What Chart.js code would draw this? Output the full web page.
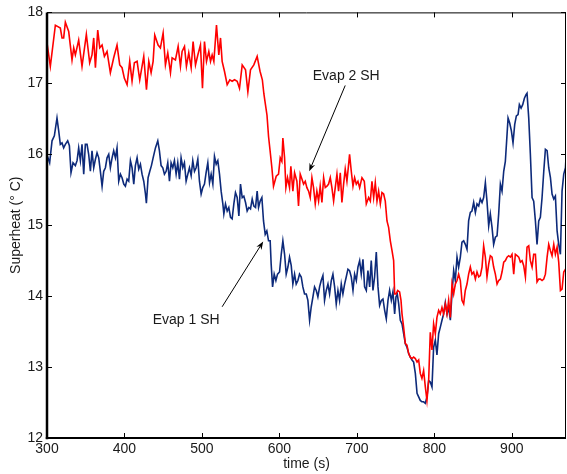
<!DOCTYPE html>
<html>
<head>
<meta charset="utf-8">
<title>Superheat</title>
<script src="https://cdn.jsdelivr.net/npm/chart.js@4/dist/chart.umd.min.js"></script>
<style>
  html, body { margin: 0; padding: 0; background: #ffffff; }
  #wrap { width: 567px; height: 474px; }
</style>
</head>
<body>
<div id="wrap"><canvas id="c" width="567" height="474"></canvas></div>
<script>
// Evaporator 2 superheat (°C) against time (s)
const evap2Time = [
  300.0, 304.3, 310.8, 317.2, 319.4, 321.5, 323.7, 328.0, 332.3, 334.5, 336.6, 340.9, 345.2, 350.8, 355.1,
  358.1, 360.3, 362.5, 365.5, 368.1, 371.1, 374.1, 377.5, 381.8, 386.1, 390.4, 393.9, 396.9, 399.9, 403.4,
  406.8, 409.8, 412.8, 416.3, 419.7, 424.9, 428.4, 431.4, 434.4, 437.0, 439.1, 443.4, 446.4, 449.9, 452.9,
  455.9, 459.4, 461.5, 465.8, 469.3, 472.3, 474.4, 477.5, 480.0, 483.0, 486.1, 488.6, 491.7, 494.7, 498.1,
  500.7, 503.3, 505.9, 508.9, 511.1, 513.2, 515.4, 518.8, 521.8, 524.0, 526.1, 529.1, 532.6, 536.0, 539.0,
  542.1, 545.5, 548.5, 552.0, 556.3, 559.3, 562.7, 567.0, 571.3, 575.0, 578.0, 580.0, 582.0, 584.0, 586.0,
  588.0, 590.3, 592.4, 595.9, 598.9, 601.1, 603.2, 604.5, 606.7, 608.4, 610.5, 613.1, 614.8, 617.4, 619.6,
  622.6, 624.7, 626.9, 629.1, 631.2, 633.4, 635.5, 637.7, 639.8, 642.0, 644.1, 646.3, 648.4, 650.6, 652.7,
  654.9, 657.1, 659.2, 661.4, 663.5, 665.7, 667.8, 670.0, 672.1, 674.3, 676.4, 678.6, 680.7, 682.9, 685.0,
  687.2, 689.4, 690.6, 692.8, 695.0, 697.1, 699.3, 701.4, 703.6, 706.6, 709.6, 712.2, 715.2, 717.4, 719.5,
  721.7, 723.8, 726.0, 728.1, 730.3, 732.4, 734.6, 736.7, 738.9, 741.0, 743.2, 745.4, 747.5, 748.8, 750.5,
  752.7, 755.2, 757.0, 758.3, 760.4, 762.6, 764.7, 766.9, 769.0, 771.2, 773.3, 775.5, 777.7, 779.8, 781.9,
  784.0, 786.2, 788.4, 790.5, 792.7, 794.8, 797.0, 799.1, 801.3, 803.4, 805.6, 807.7, 809.9, 812.0, 814.2,
  816.4, 818.5, 820.7, 822.8, 825.0, 827.1, 829.3, 831.4, 833.6, 835.7, 837.9, 840.0, 842.2, 844.3, 846.5,
  848.6, 850.8, 853.0, 855.1, 857.3, 859.4, 861.6, 863.7, 865.9, 868.0, 870.2, 872.3, 874.5, 876.6, 878.8,
  881.0, 883.1, 885.3, 887.4, 889.6, 891.7, 893.9, 896.0, 898.2, 900.3, 902.5, 904.6, 906.8, 909.0, 911.1,
  913.3, 915.4, 917.6, 919.7, 921.9, 924.0, 926.2, 928.3, 930.5, 932.6, 934.8, 936.9, 939.1, 941.3, 943.4,
  945.6, 947.7, 949.9, 952.0, 954.2, 956.3, 958.5, 960.6, 962.8, 964.9, 967.1, 969.3, 971.8
];
const evap2SH = [
  17.57, 17.24, 17.82, 17.78, 17.64, 17.64, 17.86, 17.73, 17.33, 17.50, 17.40, 17.61, 17.24, 17.69, 17.29,
  17.40, 17.64, 17.22, 17.75, 17.50, 17.54, 17.38, 17.45, 17.15, 17.36, 17.54, 17.26, 17.22, 17.07, 16.98,
  17.31, 17.03, 17.29, 17.31, 17.05, 17.38, 16.91, 17.31, 17.15, 17.31, 17.68, 17.54, 17.50, 17.71, 17.26,
  17.43, 17.15, 17.36, 17.33, 17.52, 17.24, 17.45, 17.52, 17.24, 17.43, 17.22, 17.59, 17.26, 17.40, 17.54,
  16.93, 17.59, 17.31, 17.45, 17.31, 17.40, 17.31, 17.82, 17.40, 17.64, 17.31, 17.17, 16.98, 17.05, 17.03,
  17.05, 17.03, 16.93, 17.26, 17.19, 16.88, 17.19, 17.26, 17.38, 17.17, 17.05, 16.85, 16.70, 16.55, 16.25,
  16.05, 15.81, 15.55, 15.69, 15.72, 15.95, 15.90, 16.23, 15.95, 15.53, 15.67, 15.53, 15.83, 15.48, 15.74,
  15.62, 15.27, 15.72, 15.65, 15.58, 15.62, 15.53, 15.48, 15.39, 15.67, 15.53, 15.30, 15.48, 15.34, 15.55,
  15.32, 15.67, 15.53, 15.55, 15.58, 15.67, 15.53, 15.34, 15.53, 15.72, 15.48, 15.74, 15.32, 15.58, 15.79,
  15.62, 15.86, 16.00, 15.76, 15.55, 15.67, 15.58, 15.62, 15.53, 15.67, 15.62, 15.30, 15.39, 15.34, 15.62,
  15.39, 15.60, 15.34, 15.48, 15.30, 15.46, 15.44, 15.34, 15.06, 14.97, 14.78, 14.64, 14.50, 14.03, 14.03,
  14.08, 14.06, 13.94, 13.75, 13.56, 13.33, 13.31, 13.19, 13.14, 13.12, 13.14, 13.12, 13.07, 13.10, 12.91,
  12.84, 12.95, 12.72, 12.53, 12.81, 13.49, 13.24, 13.61, 13.47, 13.70, 13.80, 13.75, 13.84, 13.75, 13.89,
  13.75, 13.94, 13.70, 14.17, 14.03, 14.17, 14.22, 14.31, 14.22, 13.94, 13.89, 14.08, 14.17, 14.31, 14.41,
  14.31, 14.34, 14.24, 14.34, 14.27, 14.29, 14.41, 14.71, 14.55, 14.27, 14.45, 14.57, 14.55, 14.41, 14.31,
  14.17, 14.22, 14.24, 14.34, 14.48, 14.50, 14.55, 14.57, 14.55, 14.59, 14.31, 14.59, 14.57, 14.55, 14.48,
  14.50, 14.43, 14.27, 14.69, 14.71, 14.50, 14.41, 14.59, 14.59, 14.20, 14.24, 14.24, 14.22, 14.24, 14.31,
  14.55, 14.73, 14.64, 14.57, 14.73, 14.59, 14.69, 14.48, 14.08, 14.10, 14.34, 14.38, 14.41
];

// Evaporator 1 superheat (°C) against time (s)
const evap1Time = [
  300.0, 303.4, 306.5, 309.5, 312.9, 315.1, 317.2, 319.4, 321.5, 323.7, 326.7, 328.9, 331.0, 333.6, 336.6,
  338.8, 340.9, 343.1, 345.2, 347.4, 349.5, 351.7, 353.8, 356.0, 358.1, 360.3, 362.5, 364.6, 366.8, 368.9,
  371.1, 373.2, 375.4, 377.5, 379.7, 381.8, 384.0, 386.1, 388.3, 390.4, 392.6, 394.8, 396.9, 399.1, 401.2,
  403.4, 405.5, 407.7, 409.8, 412.0, 414.1, 416.3, 418.4, 420.6, 422.7, 424.9, 427.1, 428.3, 430.5, 432.7,
  434.8, 437.0, 440.0, 443.0, 445.1, 447.3, 449.5, 451.6, 453.8, 455.9, 458.1, 460.2, 462.4, 464.5, 466.7,
  468.8, 471.0, 473.1, 475.3, 477.4, 479.6, 481.8, 483.9, 486.1, 488.2, 490.4, 492.5, 494.7, 496.8, 499.0,
  501.1, 503.3, 505.4, 507.6, 509.8, 511.9, 514.1, 516.2, 518.4, 520.5, 522.7, 524.8, 527.0, 528.3, 530.4,
  532.6, 534.7, 536.9, 539.0, 541.2, 543.3, 545.5, 547.7, 549.8, 552.0, 554.1, 556.3, 558.4, 560.6, 562.7,
  564.9, 567.0, 569.2, 571.3, 573.1, 575.2, 577.4, 579.5, 581.7, 583.8, 586.0, 588.1, 589.4, 591.2, 593.3,
  595.5, 597.6, 600.2, 602.4, 604.5, 606.7, 608.8, 611.0, 613.1, 615.3, 617.4, 619.6, 621.7, 623.9, 626.0,
  628.2, 630.3, 632.5, 634.7, 636.8, 639.0, 641.1, 643.3, 645.4, 647.6, 649.7, 651.9, 654.0, 656.2, 658.3,
  660.5, 662.7, 664.8, 667.0, 669.1, 671.3, 673.4, 675.6, 677.7, 679.9, 682.0, 684.2, 686.3, 688.5, 690.6,
  692.8, 695.0, 697.1, 699.3, 701.4, 703.6, 705.7, 707.9, 710.0, 712.2, 714.3, 716.5, 718.6, 720.8, 722.9,
  725.1, 727.3, 729.4, 731.6, 733.7, 735.9, 738.0, 740.2, 742.3, 744.5, 746.6, 748.8, 750.5, 752.2, 754.0,
  756.1, 758.3, 760.4, 762.6, 764.7, 766.9, 769.0, 771.2, 773.3, 775.5, 777.7, 779.8, 781.9, 784.0, 786.2,
  788.4, 790.5, 792.7, 794.8, 797.0, 799.1, 801.3, 803.4, 805.6, 807.7, 809.9, 812.0, 814.2, 816.4, 818.5,
  820.7, 822.8, 825.0, 827.1, 829.3, 831.4, 833.6, 835.7, 837.9, 840.0, 842.2, 844.3, 846.5, 848.6, 850.8,
  853.0, 855.1, 857.3, 859.4, 861.6, 863.7, 865.9, 868.0, 870.2, 872.3, 874.5, 876.6, 878.8, 881.0, 883.1,
  885.3, 887.4, 889.6, 891.7, 893.9, 895.2, 897.3, 899.5, 901.6, 903.8, 905.9, 908.1, 909.8, 912.0, 914.1,
  916.3, 918.4, 919.7, 921.9, 924.0, 926.2, 928.3, 930.5, 932.6, 934.8, 936.9, 939.1, 941.3, 943.4, 945.6,
  947.7, 949.9, 952.0, 954.2, 956.3, 958.5, 960.6, 962.8, 964.9, 967.1, 969.3, 971.8
];
const evap1SH = [
  15.99, 15.88, 16.19, 16.26, 16.51, 16.33, 16.14, 16.16, 16.09, 16.14, 16.19, 16.12, 15.74, 15.88, 15.84,
  15.91, 16.09, 15.91, 16.14, 15.72, 16.14, 16.14, 16.00, 15.76, 16.05, 15.81, 15.93, 16.02, 15.95, 15.76,
  15.55, 15.76, 15.81, 15.95, 16.00, 15.81, 15.95, 16.05, 15.95, 16.09, 15.62, 15.72, 15.67, 15.58, 15.55,
  15.65, 15.62, 15.91, 15.81, 15.58, 15.84, 15.95, 15.79, 15.86, 15.72, 15.62, 15.44, 15.31, 15.67, 15.76,
  15.84, 15.95, 16.09, 16.19, 16.05, 15.84, 15.81, 15.72, 15.76, 15.88, 15.62, 15.88, 15.81, 15.91, 15.72,
  15.88, 15.65, 15.95, 15.81, 15.88, 15.62, 15.72, 15.81, 15.70, 15.91, 15.76, 15.81, 15.93, 15.62, 15.44,
  15.53, 15.58, 15.74, 15.88, 15.60, 15.72, 15.58, 15.97, 15.86, 15.91, 15.72, 15.48, 15.30, 15.16, 15.30,
  15.20, 15.25, 15.11, 15.09, 15.30, 15.46, 15.39, 15.13, 15.58, 15.39, 15.41, 15.32, 15.20, 15.25, 15.23,
  15.37, 15.27, 15.25, 15.48, 15.25, 15.34, 15.39, 15.06, 14.87, 14.92, 14.78, 14.78, 14.45, 14.13, 14.31,
  14.22, 14.31, 14.34, 14.59, 14.78, 14.59, 14.31, 14.41, 14.55, 14.43, 14.17, 14.31, 14.17, 14.22, 14.31,
  14.27, 14.13, 14.03, 14.03, 13.94, 13.66, 13.85, 13.99, 14.13, 14.08, 13.99, 14.13, 14.22, 14.29, 13.94,
  14.08, 14.17, 14.03, 14.22, 14.31, 14.13, 13.89, 14.08, 13.94, 14.17, 14.03, 14.17, 14.27, 14.38, 14.36,
  14.27, 14.08, 14.31, 14.22, 14.41, 14.50, 14.31, 14.52, 14.13, 14.08, 14.36, 14.13, 14.50, 14.08, 14.27,
  14.62, 14.13, 13.87, 13.94, 13.96, 13.80, 13.68, 13.94, 14.08, 13.94, 14.06, 13.75, 13.99, 14.03, 13.89,
  13.66, 13.61, 13.47, 13.33, 13.28, 13.19, 13.14, 13.10, 13.07, 12.91, 12.63, 12.58, 12.53, 12.51, 12.51,
  12.49, 12.58, 12.81, 12.79, 12.72, 13.28, 13.38, 13.17, 13.47, 13.56, 13.66, 13.75, 13.91, 13.75, 13.84,
  13.66, 14.03, 14.36, 14.22, 14.55, 14.41, 14.55, 14.76, 14.78, 14.73, 14.66, 15.06, 15.18, 15.20, 15.32,
  15.18, 15.30, 15.27, 15.37, 15.32, 15.39, 15.60, 15.34, 14.99, 15.16, 14.97, 14.73, 14.83, 14.85, 15.16,
  15.58, 15.48, 15.76, 15.90, 16.28, 16.51, 16.44, 16.33, 16.16, 16.42, 16.54, 16.56, 16.70, 16.65, 16.70,
  16.79, 16.84, 16.86, 16.51, 16.00, 15.39, 15.34, 15.06, 14.73, 15.06, 15.11, 15.39, 15.76, 16.07, 16.05,
  15.81, 15.67, 15.44, 15.37, 15.41, 14.92, 14.73, 14.59, 15.48, 15.72, 15.81, 16.33
];

// Axis ranges and tick values
const xTicks = [300, 400, 500, 600, 700, 800, 900];
const yTicks = [12, 13, 14, 15, 16, 17, 18];
const xLimits = [300, 970];
const yLimits = [12, 18];

// Callout labels with arrows, in data coordinates
const calloutText = ['Evap 2 SH', 'Evap 1 SH'];
const calloutAnchor = [[686.3, 17.10], [479.6, 13.66]];
const calloutTail = [[685.0, 16.97], [526.1, 13.85]];
const calloutTip = [[638.5, 15.76], [579.1, 14.77]];

const FONT = "'Liberation Sans', Arial, Helvetica, sans-serif";
const INK = '#1a1a1a';

function toPoints(xs, ys) {
  return xs.map((x, i) => ({ x: x, y: ys[i] }));
}

// Box frame, inward tick marks and callouts
const framePlugin = {
  id: 'frame',
  afterDatasetsDraw(chart) {
    const { ctx, chartArea: a, scales: { x, y } } = chart;
    ctx.save();
    ctx.strokeStyle = '#000';
    ctx.lineCap = 'butt';

    // thin top and right edges
    ctx.lineWidth = 1;
    ctx.beginPath();
    ctx.moveTo(a.left, a.top + 0.5);
    ctx.lineTo(a.right, a.top + 0.5);
    ctx.moveTo(a.right - 0.5, a.top);
    ctx.lineTo(a.right - 0.5, a.bottom);
    ctx.stroke();

    // inward ticks
    const tl = 5;
    ctx.beginPath();
    xTicks.forEach(v => {
      const px = Math.round(x.getPixelForValue(v)) + 0.5;
      ctx.moveTo(px, a.bottom); ctx.lineTo(px, a.bottom - tl);
      ctx.moveTo(px, a.top); ctx.lineTo(px, a.top + tl);
    });
    yTicks.forEach(v => {
      const py = Math.round(y.getPixelForValue(v)) + 0.5;
      ctx.moveTo(a.left, py); ctx.lineTo(a.left + tl, py);
      ctx.moveTo(a.right, py); ctx.lineTo(a.right - tl, py);
    });
    ctx.stroke();

    // heavier left and bottom axes
    ctx.lineWidth = 2.5;
    ctx.beginPath();
    ctx.moveTo(a.left, a.top);
    ctx.lineTo(a.left, a.bottom + 1.2);
    ctx.stroke();
    ctx.lineWidth = 2;
    ctx.beginPath();
    ctx.moveTo(a.left - 1.2, a.bottom);
    ctx.lineTo(a.right, a.bottom);
    ctx.stroke();

    // callouts
    ctx.fillStyle = INK;
    ctx.font = '14px ' + FONT;
    ctx.textAlign = 'center';
    ctx.textBaseline = 'middle';
    calloutText.forEach((t, i) => {
      ctx.fillText(t, x.getPixelForValue(calloutAnchor[i][0]), y.getPixelForValue(calloutAnchor[i][1]));
      const x0 = x.getPixelForValue(calloutTail[i][0]);
      const y0 = y.getPixelForValue(calloutTail[i][1]);
      const x1 = x.getPixelForValue(calloutTip[i][0]);
      const y1 = y.getPixelForValue(calloutTip[i][1]);
      const ang = Math.atan2(y1 - y0, x1 - x0);
      const hl = 8, hw = 3;
      ctx.strokeStyle = '#000';
      ctx.lineWidth = 1;
      ctx.beginPath();
      ctx.moveTo(x0, y0);
      ctx.lineTo(x1 - Math.cos(ang) * hl * 0.7, y1 - Math.sin(ang) * hl * 0.7);
      ctx.stroke();
      ctx.fillStyle = '#000';
      ctx.beginPath();
      ctx.moveTo(x1, y1);
      ctx.lineTo(x1 - Math.cos(ang) * hl - Math.sin(ang) * hw, y1 - Math.sin(ang) * hl + Math.cos(ang) * hw);
      ctx.lineTo(x1 - Math.cos(ang) * hl * 0.7, y1 - Math.sin(ang) * hl * 0.7);
      ctx.lineTo(x1 - Math.cos(ang) * hl + Math.sin(ang) * hw, y1 - Math.sin(ang) * hl - Math.cos(ang) * hw);
      ctx.closePath();
      ctx.fill();
      ctx.fillStyle = INK;
    });
    ctx.restore();
  }
};

new Chart(document.getElementById('c'), {
  type: 'line',
  data: {
    datasets: [
      {
        label: 'Evap 1 SH',
        data: toPoints(evap1Time, evap1SH),
        borderColor: '#0d2a7a',
        borderWidth: 1.6,
        order: 1
      },
      {
        label: 'Evap 2 SH',
        data: toPoints(evap2Time, evap2SH),
        borderColor: '#ff0000',
        borderWidth: 1.6,
        order: 0
      }
    ]
  },
  options: {
    responsive: false,
    animation: false,
    devicePixelRatio: 1,
    parsing: false,
    layout: { padding: { top: 11, right: 1, left: 0, bottom: 0 } },
    elements: {
      point: { radius: 0 },
      line: { tension: 0, fill: false }
    },
    plugins: {
      legend: { display: false },
      tooltip: { enabled: false }
    },
    scales: {
      x: {
        type: 'linear',
        min: xLimits[0],
        max: xLimits[1],
        afterFit(s) { s.height = 36; },
        afterBuildTicks(s) { s.ticks = xTicks.map(v => ({ value: v })); },
        grid: { display: false, drawTicks: false },
        border: { display: false },
        ticks: {
          color: INK,
          font: { family: FONT, size: 14 },
          padding: 3,
          maxRotation: 0,
          autoSkip: false
        },
        title: {
          display: true,
          text: 'time (s)',
          color: INK,
          font: { family: FONT, size: 14 },
          padding: { top: 0, bottom: 1 }
        }
      },
      y: {
        type: 'linear',
        min: yLimits[0],
        max: yLimits[1],
        afterFit(s) { s.width = 47; },
        afterBuildTicks(s) { s.ticks = yTicks.map(v => ({ value: v })); },
        grid: { display: false, drawTicks: false },
        border: { display: false },
        ticks: {
          color: INK,
          font: { family: FONT, size: 14 },
          padding: 4,
          autoSkip: false
        },
        title: {
          display: true,
          text: 'Superheat (° C)',
          color: INK,
          font: { family: FONT, size: 14 },
          padding: { top: 8, bottom: 0 }
        }
      }
    }
  },
  plugins: [framePlugin]
});
</script>
</body>
</html>
